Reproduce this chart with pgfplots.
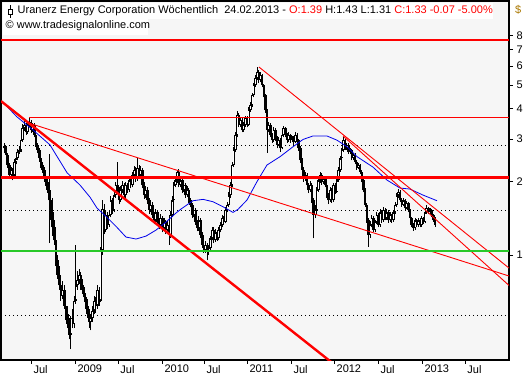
\documentclass[border=0pt]{standalone}
\usepackage{pgfplots}
\usepackage{pgfplotstable}
\usepackage{fontspec}
\setmainfont{Liberation Sans}
\pgfplotsset{compat=1.18}
\definecolor{bg}{RGB}{246,246,246}
\definecolor{mared}{RGB}{255,0,0}
\definecolor{magreen}{RGB}{40,200,40}
\definecolor{mablue}{RGB}{0,0,235}
\definecolor{dollar}{RGB}{170,120,0}
\pgfplotstableread{
i o h l c
0 2.80 2.90 2.62 2.75
1 2.75 2.80 2.50 2.58
2 2.58 2.62 2.28 2.35
3 2.35 2.40 2.05 2.13
4 2.13 2.30 2.08 2.24
5 2.24 2.28 2.03 2.12
6 2.12 2.48 2.10 2.41
7 2.41 2.58 2.36 2.50
8 2.50 2.72 2.45 2.65
9 2.65 2.80 2.60 2.70
10 2.70 3.05 2.66 2.97
11 2.97 3.45 2.92 3.33
12 3.33 3.55 3.25 3.43
13 3.43 3.50 3.12 3.20
14 3.20 3.50 3.15 3.43
15 3.43 3.69 3.35 3.52
16 3.52 3.58 3.18 3.27
17 3.27 3.50 3.22 3.43
18 3.43 3.48 3.05 3.12
19 3.12 3.18 2.78 2.84
20 2.84 2.90 2.62 2.70
21 2.70 2.75 2.42 2.50
22 2.50 2.58 2.28 2.35
23 2.35 2.42 2.18 2.24
24 2.24 2.30 2.00 2.07
25 2.07 2.15 1.92 1.99
26 1.99 2.05 1.80 1.85
27 1.85 2.60 1.12 1.68
28 1.68 1.80 1.40 1.50
29 1.50 1.72 1.20 1.30
30 1.30 1.40 1.10 1.15
31 1.15 1.18 0.90 0.95
32 0.95 1.00 0.80 0.83
33 0.83 0.90 0.72 0.75
34 0.75 0.80 0.65 0.68
35 0.68 0.78 0.66 0.72
36 0.72 0.75 0.60 0.62
37 0.62 0.66 0.54 0.57
38 0.57 0.62 0.50 0.52
39 0.52 0.55 0.45 0.47
40 0.47 0.56 0.41 0.55
41 0.55 0.60 0.50 0.52
42 0.52 0.68 0.50 0.65
43 0.65 1.10 0.63 0.75
44 0.75 0.86 0.72 0.79
45 0.79 0.88 0.76 0.83
46 0.83 0.85 0.72 0.75
47 0.75 0.80 0.69 0.72
48 0.72 0.74 0.64 0.67
49 0.67 0.70 0.60 0.62
50 0.62 0.66 0.55 0.57
51 0.57 0.60 0.50 0.53
52 0.53 0.57 0.49 0.55
53 0.55 0.62 0.53 0.59
54 0.59 0.68 0.57 0.65
55 0.65 0.67 0.58 0.62
56 0.62 0.75 0.60 0.72
57 0.72 0.74 0.62 0.65
58 0.65 1.08 0.64 1.05
59 1.05 1.68 1.00 1.55
60 1.55 1.62 1.22 1.27
61 1.27 1.52 1.24 1.46
62 1.46 1.50 1.28 1.33
63 1.33 1.52 1.30 1.46
64 1.46 1.75 1.43 1.68
65 1.68 1.72 1.48 1.53
66 1.53 1.82 1.50 1.76
67 1.76 2.00 1.72 1.94
68 1.94 2.41 1.80 1.85
69 1.85 1.90 1.62 1.68
70 1.68 1.92 1.65 1.85
71 1.85 2.02 1.80 1.94
72 1.94 1.98 1.70 1.76
73 1.76 2.00 1.72 1.94
74 1.94 1.98 1.80 1.85
75 1.85 2.10 1.82 2.03
76 2.03 2.08 1.88 1.94
77 1.94 2.20 1.90 2.13
78 2.13 2.32 2.08 2.24
79 2.24 2.30 2.00 2.07
80 2.07 2.50 2.02 2.28
81 2.28 2.35 2.08 2.13
82 2.13 2.32 2.08 2.24
83 2.24 2.28 1.88 1.94
84 1.94 2.00 1.70 1.76
85 1.76 1.92 1.72 1.85
86 1.85 1.90 1.62 1.68
87 1.68 1.72 1.48 1.53
88 1.53 1.68 1.50 1.61
89 1.61 1.65 1.42 1.46
90 1.46 1.50 1.34 1.39
91 1.39 1.55 1.36 1.50
92 1.50 1.53 1.32 1.37
93 1.37 1.42 1.28 1.33
94 1.33 1.47 1.30 1.42
95 1.42 1.45 1.24 1.29
96 1.29 1.42 1.26 1.37
97 1.37 1.40 1.22 1.27
98 1.27 1.38 1.24 1.33
99 1.33 1.36 1.10 1.21
100 1.21 1.52 1.18 1.46
101 1.46 1.75 1.43 1.68
102 1.68 2.00 1.65 1.94
103 1.94 2.12 1.90 2.03
104 2.03 2.24 1.98 2.20
105 2.20 2.25 1.90 1.94
106 1.94 2.10 1.90 2.03
107 2.03 2.06 1.80 1.85
108 1.85 2.00 1.82 1.94
109 1.94 1.98 1.72 1.76
110 1.76 1.92 1.73 1.85
111 1.85 1.88 1.64 1.68
112 1.68 1.72 1.57 1.61
113 1.61 1.64 1.42 1.46
114 1.46 1.58 1.43 1.53
115 1.53 1.56 1.33 1.37
116 1.37 1.40 1.25 1.29
117 1.29 1.45 1.26 1.39
118 1.39 1.42 1.18 1.21
119 1.21 1.24 1.07 1.10
120 1.10 1.13 1.02 1.05
121 1.05 1.14 1.02 1.10
122 1.10 1.12 0.95 1.03
123 1.03 1.10 1.00 1.07
124 1.07 1.20 1.05 1.17
125 1.17 1.30 1.15 1.27
126 1.27 1.30 1.12 1.15
127 1.15 1.28 1.13 1.24
128 1.24 1.27 1.14 1.17
129 1.17 1.30 1.15 1.27
130 1.27 1.37 1.24 1.33
131 1.33 1.46 1.30 1.42
132 1.42 1.45 1.33 1.37
133 1.37 1.58 1.35 1.53
134 1.53 1.66 1.50 1.61
135 1.61 1.82 1.58 1.76
136 1.76 2.00 1.72 1.94
137 1.94 2.42 1.90 2.35
138 2.35 2.78 2.30 2.70
139 2.70 3.20 2.65 3.12
140 3.12 3.90 3.05 3.77
141 3.77 3.85 3.35 3.43
142 3.43 3.70 3.38 3.59
143 3.59 3.65 3.20 3.27
144 3.27 3.52 3.22 3.43
145 3.43 3.75 3.38 3.66
146 3.66 3.72 3.35 3.43
147 3.43 4.05 3.40 3.95
148 3.95 4.25 3.88 4.14
149 4.14 4.65 4.08 4.55
150 4.55 5.10 4.45 5.00
151 5.00 5.50 4.92 5.35
152 5.35 5.94 5.25 5.66
153 5.66 5.75 5.10 5.25
154 5.25 5.65 5.15 5.50
155 5.50 5.55 4.90 5.00
156 5.00 5.05 4.45 4.55
157 4.55 4.60 3.85 3.95
158 3.95 4.00 2.63 3.27
159 3.27 3.52 3.20 3.43
160 3.43 3.48 3.05 3.12
161 3.12 3.18 2.90 2.97
162 2.97 3.35 2.92 3.27
163 3.27 3.32 2.95 3.03
164 3.03 3.08 2.75 2.84
165 2.84 3.05 2.80 2.97
166 2.97 3.02 2.66 2.75
167 2.75 3.20 2.72 3.12
168 3.12 3.40 3.05 3.33
169 3.33 3.38 3.05 3.12
170 3.12 3.18 2.90 2.97
171 2.97 3.20 2.93 3.12
172 3.12 3.16 2.90 2.97
173 2.97 3.10 2.92 3.03
174 3.03 3.08 2.85 2.91
175 2.91 3.22 2.88 3.12
176 3.12 3.18 2.92 2.97
177 2.97 3.00 2.68 2.75
178 2.75 2.80 2.40 2.46
179 2.46 2.50 2.18 2.24
180 2.24 2.30 2.00 2.07
181 2.07 2.20 2.02 2.13
182 2.13 2.17 1.88 1.94
183 1.94 1.98 1.80 1.85
184 1.85 2.02 1.82 1.94
185 1.94 1.98 1.64 1.68
186 1.68 1.72 1.17 1.46
187 1.46 1.60 1.42 1.53
188 1.53 1.90 1.50 1.85
189 1.85 2.10 1.82 2.03
190 2.03 2.20 1.98 2.13
191 2.13 2.17 1.95 1.99
192 1.99 2.12 1.96 2.07
193 2.07 2.10 1.90 1.94
194 1.94 1.98 1.72 1.76
195 1.76 1.80 1.62 1.68
196 1.68 1.90 1.65 1.85
197 1.85 1.88 1.64 1.68
198 1.68 1.98 1.65 1.94
199 1.94 1.98 1.78 1.82
200 1.82 2.08 1.80 2.03
201 2.03 2.30 2.00 2.24
202 2.24 2.56 2.20 2.50
203 2.50 2.76 2.45 2.70
204 2.70 3.05 2.65 2.97
205 2.97 3.00 2.70 2.75
206 2.75 2.90 2.70 2.84
207 2.84 2.88 2.60 2.65
208 2.65 2.76 2.60 2.70
209 2.70 2.74 2.45 2.50
210 2.50 2.64 2.46 2.58
211 2.58 2.62 2.36 2.41
212 2.41 2.45 2.24 2.28
213 2.28 2.40 2.25 2.35
214 2.35 2.38 2.16 2.20
215 2.20 2.24 1.99 2.03
216 2.03 2.06 1.81 1.85
217 1.85 1.88 1.58 1.61
218 1.61 1.64 1.36 1.39
219 1.39 1.42 1.08 1.21
220 1.21 1.38 1.18 1.33
221 1.33 1.46 1.30 1.42
222 1.42 1.45 1.24 1.27
223 1.27 1.40 1.24 1.37
224 1.37 1.50 1.34 1.46
225 1.46 1.49 1.30 1.33
226 1.33 1.54 1.31 1.50
227 1.50 1.53 1.36 1.39
228 1.39 1.57 1.37 1.53
229 1.53 1.56 1.39 1.42
230 1.42 1.54 1.40 1.50
231 1.50 1.53 1.36 1.39
232 1.39 1.50 1.37 1.46
233 1.46 1.48 1.36 1.39
234 1.39 1.53 1.37 1.50
235 1.50 1.65 1.48 1.61
236 1.61 1.80 1.58 1.76
237 1.76 1.87 1.72 1.82
238 1.82 1.85 1.65 1.68
239 1.68 1.72 1.58 1.61
240 1.61 1.72 1.59 1.68
241 1.68 1.70 1.53 1.56
242 1.56 1.67 1.54 1.64
243 1.64 1.66 1.50 1.53
244 1.53 1.55 1.39 1.42
245 1.42 1.44 1.30 1.33
246 1.33 1.36 1.26 1.29
247 1.29 1.42 1.27 1.39
248 1.39 1.41 1.30 1.33
249 1.33 1.42 1.31 1.39
250 1.39 1.41 1.30 1.33
251 1.33 1.45 1.31 1.42
252 1.42 1.44 1.34 1.37
253 1.37 1.53 1.35 1.50
254 1.50 1.60 1.48 1.56
255 1.56 1.58 1.47 1.50
256 1.50 1.56 1.48 1.53
257 1.53 1.55 1.43 1.46
258 1.46 1.48 1.37 1.39
259 1.39 1.43 1.31 1.33
}\bars
\begin{document}
\begin{tikzpicture}[x=1pt,y=1pt]
\useasboundingbox (0,0) rectangle (527,380);
\fill[white] (0,0) rectangle (527,380);
\begin{axis}[
  at={(1pt,20pt)}, anchor=south west,
  scale only axis, width=508pt, height=359pt,
  xmin=-2.05, xmax=303.5,
  ymode=log, ymin=0.37, ymax=11.1,
  axis background/.style={fill=bg},
  axis line style={black, line width=1.2pt},
  ytick={1,2,3,4,5,6,7,8}, yticklabels={1,2,3,4,5,6,7,8},
  minor y tick num=0,
  xtick={16.0,42.5,68.3,94.8,120.1,145.9,172.4,198.3,224.7,251.2,277.0},
  xticklabels={Jul,2009,Jul,2010,Jul,2011,Jul,2012,Jul,2013,Jul},
  xtick pos=bottom, ytick pos=right, yticklabel pos=right,
  tick align=outside, major tick length=4pt,
  tick style={black, line width=0.8pt},
  tick label style={font=\fontsize{11}{12}\selectfont},
  xticklabel style={anchor=north west, xshift=-1pt, yshift=2.5pt},
  yticklabel style={anchor=west, xshift=0pt},
  clip=true,
]
% dotted grid
\addplot[black, line width=0.9pt, dash pattern=on 1pt off 3pt] coordinates {(-2.05,2.83) (303.5,2.83)};
\addplot[black, line width=0.9pt, dash pattern=on 1pt off 3pt] coordinates {(-2.05,1.527) (303.5,1.527)};
\addplot[black, line width=0.9pt, dash pattern=on 1pt off 3pt] coordinates {(-2.05,0.563) (303.5,0.563)};
% wicks
\addplot[draw=none, mark=none, forget plot, error bars/.cd, y dir=plus, y explicit, error mark=none,
  error bar style={draw=black, line width=1pt}]
  table[x=i, y=l, y error plus expr={\thisrow{h}-\thisrow{l}}] {\bars};
% bodies
\addplot[draw=none, mark=none, forget plot, error bars/.cd, y dir=plus, y explicit, error mark=none,
  error bar style={draw=black, line width=2.5pt}]
  table[x=i, y expr={min(\thisrow{o},\thisrow{c})}, y error plus expr={abs(\thisrow{c}-\thisrow{o})}] {\bars};
% hollow interior of rising candles
\addplot[draw=none, mark=none, forget plot, error bars/.cd, y dir=plus, y explicit, error mark=none,
  error bar style={draw=white, line width=0.8pt}]
  table[x=i, y expr={1.012*\thisrow{o}}, y error plus expr={max(0.988*\thisrow{c}-1.012*\thisrow{o},0)}] {\bars};
% moving average
\addplot[mablue, line width=0.8pt] coordinates {
(-1.44,4.30) (7.4,3.71) (17.2,3.27) (27.4,2.84) (32.2,2.51) (37.7,2.18) (45.5,1.94)
(51.5,1.73) (55.7,1.56) (61.7,1.43) (67.7,1.30) (73.1,1.186) (79.2,1.164) (85.2,1.197)
(91.2,1.267) (97.2,1.367) (103.2,1.489) (106.2,1.546) (113.4,1.673) (119.5,1.695)
(125.5,1.657) (131.5,1.58) (137.5,1.498) (140.5,1.542) (145.9,1.684) (151.9,2.003)
(157.9,2.346) (165.8,2.54) (173.6,2.79) (179.6,2.99) (185.6,3.09) (194.0,3.09)
(200.0,2.97) (206.1,2.79) (212.1,2.54) (221.7,2.30) (230.1,2.035) (237.9,1.887)
(243.9,1.869) (251.8,1.765) (260.2,1.673)};
% trend lines
\addplot[mared, line width=2.4pt] coordinates {(-2.05,4.30) (201.8,0.340)};
\addplot[mared, line width=0.9pt] coordinates {(14.8,3.49) (303.5,0.820)};
\addplot[mared, line width=0.9pt] coordinates {(153.1,5.94) (303.5,0.884)};
\addplot[mared, line width=0.9pt] coordinates {(203.7,3.09) (303.5,0.750)};
\addplot[mared, line width=0.9pt] coordinates {(14.8,3.69) (303.5,3.69)};
\addplot[mared, line width=2.2pt] coordinates {(-2.05,7.67) (303.5,7.67)};
\addplot[mared, line width=2.6pt] coordinates {(-2.05,2.08) (303.5,2.08)};
\addplot[magreen, line width=2.2pt] coordinates {(-2.05,1.042) (303.5,1.042)};
\end{axis}
% header
\fill[white] (3,361) rectangle (493,377);
\fill[white] (3,345) rectangle (148,361);
\draw[black, line width=0.8pt] (10,375) -- (10,362);
\draw[black, fill=white, line width=0.8pt] (8,366) rectangle (12,371);
\node[anchor=west, inner sep=0pt] at (17.5,369) {\fontsize{11}{12}\selectfont Uranerz Energy Corporation Wöchentlich\ \ 24.02.2013 - \textcolor{mared}{O:1.39} H:1.43 L:1.31 \textcolor{mared}{C:1.33 -0.07 -5.00\%}};
\node[anchor=west, inner sep=0pt] at (5.5,354) {\fontsize{11}{12}\selectfont © www.tradesignalonline.com};
\node[anchor=west, inner sep=0pt, text=dollar] at (515,370) {\fontsize{11}{12}\selectfont\$};
\end{tikzpicture}
\end{document}
